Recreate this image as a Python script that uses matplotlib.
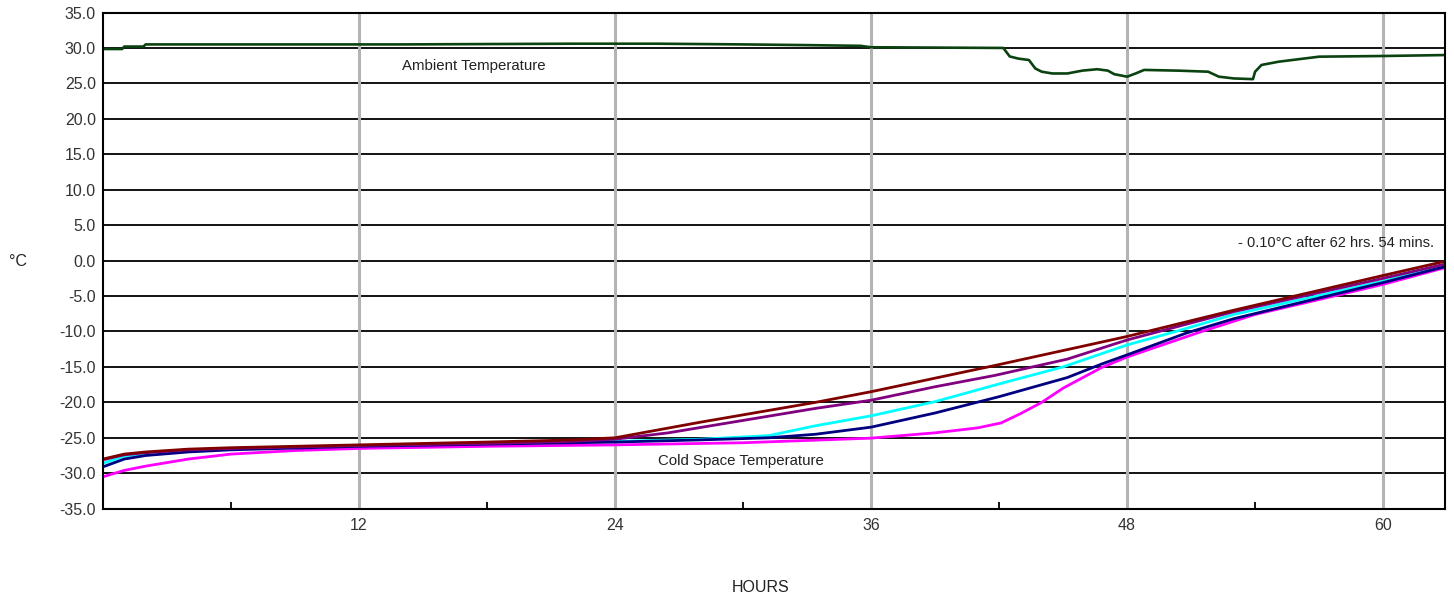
import matplotlib
matplotlib.use("Agg")
import matplotlib.pyplot as plt
from matplotlib.ticker import MultipleLocator, FormatStrFormatter

plt.rcParams['font.family'] = ['Liberation Sans', 'DejaVu Sans']

# ---------------- data ----------------
ambient_hours = [0, 0.9, 1.0, 1.9, 2.0, 6, 10, 14, 18, 22, 26, 30, 33, 35.5, 36, 42.2,
                 42.5, 42.9, 43.4, 43.7, 44.0, 44.5, 45.2, 45.9, 46.6, 47.1, 47.4, 48.0,
                 48.4, 48.8, 50.4, 51.8, 52.3, 53.0, 53.9, 54.0, 54.3, 55.1, 57.0, 60.1, 62.9]
ambient_temp = [29.85, 29.85, 30.2, 30.2, 30.5, 30.5, 30.5, 30.5, 30.55, 30.6, 30.6, 30.5,
                30.4, 30.3, 30.1, 30.0, 28.8, 28.5, 28.3, 27.1, 26.65, 26.4, 26.4, 26.8,
                27.0, 26.8, 26.3, 25.95, 26.4, 26.9, 26.8, 26.65, 25.95, 25.7, 25.6, 26.65,
                27.6, 28.06, 28.77, 28.87, 29.0]

maroon_hours = [0, 1, 2, 4, 6, 9, 12, 18, 22, 24, 28, 33.4, 36, 41.8, 46.8, 48, 53, 60, 62.9]
maroon_temp = [-28.0, -27.3, -27.0, -26.6, -26.4, -26.2, -26.0, -25.6, -25.3, -25.0, -22.8,
               -20.0, -18.5, -14.8, -11.5, -10.7, -7.0, -2.1, -0.1]

purple_hours = [0, 1, 2, 4, 6, 9, 12, 18, 22, 24, 26.5, 29.5, 33.4, 36, 39, 41.8, 45.2, 48,
                53, 60, 62.9]
purple_temp = [-28.1, -27.4, -27.1, -26.7, -26.5, -26.3, -26.1, -25.8, -25.5, -25.2, -24.3,
               -22.8, -20.85, -19.7, -17.8, -16.2, -13.9, -11.2, -7.2, -2.5, -0.5]

cyan_hours = [0, 1, 2, 4, 6, 12, 18, 24, 28, 31.2, 33.4, 36, 39, 42, 45, 48, 50.4, 53, 60, 62.9]
cyan_temp = [-28.6, -27.6, -27.2, -26.8, -26.5, -26.1, -25.8, -25.5, -25.2, -24.7, -23.3,
             -21.9, -19.9, -17.4, -15.0, -11.9, -9.9, -7.6, -2.9, -0.7]

navy_hours = [0, 1, 2, 4, 6, 12, 18, 24, 28, 31.2, 33.4, 36, 39, 42, 45.2, 46.8, 48, 50.8,
              53, 60, 62.9]
navy_temp = [-29.1, -28.0, -27.5, -27.0, -26.7, -26.2, -25.9, -25.6, -25.3, -25.0, -24.5,
             -23.5, -21.5, -19.2, -16.5, -14.6, -13.3, -10.2, -8.2, -3.1, -0.85]

magenta_hours = [0, 1, 2, 4, 6, 9, 12, 18, 24, 30, 36, 39, 41, 42.1, 43, 44, 45, 46.8, 48,
                 51.5, 54, 57.7, 60, 62.9]
magenta_temp = [-30.5, -29.6, -29.0, -28.0, -27.3, -26.8, -26.5, -26.2, -26.0, -25.7, -25.05,
                -24.3, -23.6, -22.9, -21.6, -20.0, -18.0, -15.1, -13.6, -10.0, -7.6, -5.0,
                -3.35, -1.0]

x_ticks = [12, 24, 36, 48, 60]

# ---------------- figure ----------------
fig = plt.figure(figsize=(14.54, 5.99), dpi=100)
ax = fig.add_axes([0.0708, 0.1508, 0.9230, 0.8283])

ax.set_xlim(0, 62.9)
ax.set_ylim(-35, 35)

# grid
for v in range(-30, 35, 5):
    ax.axhline(v, color='black', lw=1.3, zorder=1)
for h in x_ticks:
    ax.axvline(h, color='#b4b4b4', lw=2.2, zorder=2)

ax.plot(ambient_hours, ambient_temp, color='#0b4310', lw=1.9, zorder=4)

ax.plot(magenta_hours, magenta_temp, color='#ff00ff', lw=2.0, zorder=3)
ax.plot(cyan_hours, cyan_temp, color='#00ffff', lw=2.0, zorder=3)
ax.plot(navy_hours, navy_temp, color='#000080', lw=2.0, zorder=3)
ax.plot(purple_hours, purple_temp, color='#800080', lw=2.0, zorder=3)
ax.plot(maroon_hours, maroon_temp, color='#800000', lw=2.0, zorder=3)

# axes styling
for s in ax.spines.values():
    s.set_linewidth(1.5)
    s.set_color('black')
    s.set_zorder(5)

ax.yaxis.set_major_locator(MultipleLocator(5))
ax.yaxis.set_major_formatter(FormatStrFormatter('%.1f'))
ax.set_xticks(x_ticks)
ax.set_xticklabels([str(t) for t in x_ticks])
ax.xaxis.set_minor_locator(MultipleLocator(6))
ax.tick_params(axis='y', length=0, pad=5, labelsize=11.5, labelcolor='#333333')
ax.tick_params(axis='x', which='major', direction='in', length=5, width=1.3,
               pad=7, labelsize=11.5, labelcolor='#333333')
ax.tick_params(axis='x', which='minor', direction='in', length=5, width=1.3)

ax.text(14.0, 27.45, 'Ambient Temperature', fontsize=10.8, color='#222222',
        ha='left', va='center', zorder=6)
ax.text(26.0, -28.25, 'Cold Space Temperature', fontsize=10.8, color='#222222',
        ha='left', va='center', zorder=6)
ax.text(62.37, 2.5, '- 0.10°C after 62 hrs. 54 mins.', fontsize=10.5, color='#222222',
        ha='right', va='center', zorder=6)

fig.text(18 / 1454, 1 - 262 / 599, '°C', fontsize=11.5, color='#222222',
         ha='center', va='center')
fig.text(761 / 1454, 1 - 587 / 599, 'HOURS', fontsize=11.5, color='#222222',
         ha='center', va='center')

fig.savefig('out.png', dpi=100)
